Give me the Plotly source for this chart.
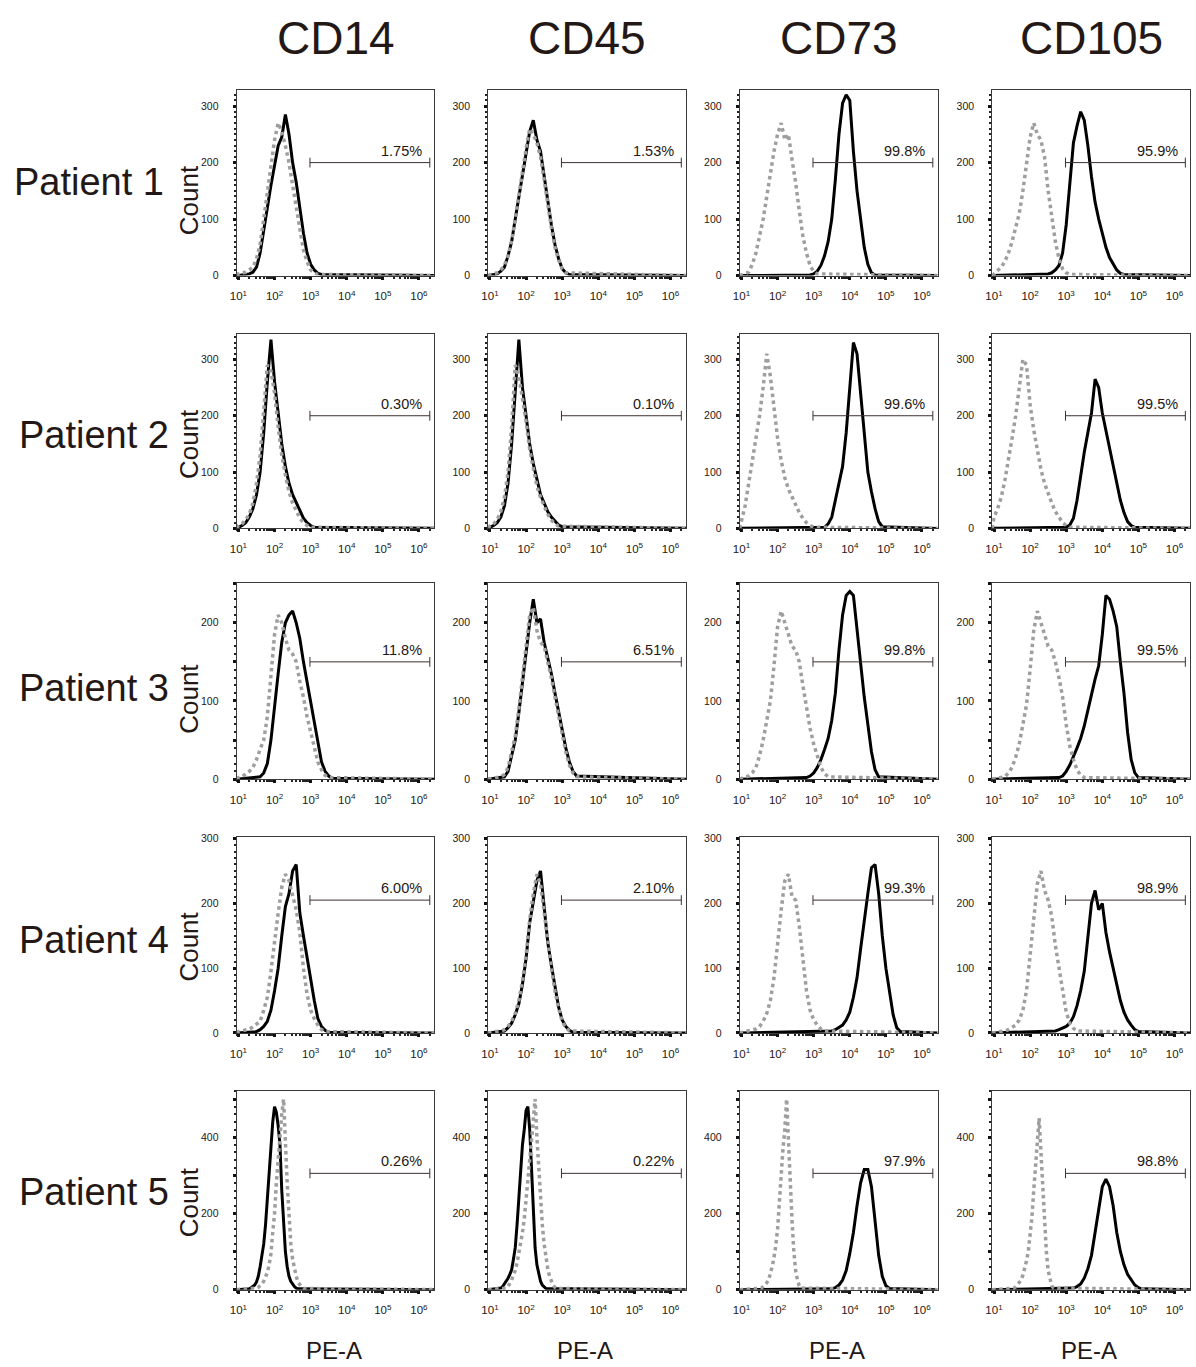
import plotly.graph_objects as go

# ---------------- data ----------------
PATIENTS = ["Patient 1", "Patient 2", "Patient 3", "Patient 4", "Patient 5"]
MARKERS = ["CD14", "CD45", "CD73", "CD105"]
X_TITLE = "PE-A"
Y_TITLE = "Count"

PERCENT_P1 = ["1.75%", "1.53%", "99.8%", "95.9%"]
PERCENT_P2 = ["0.30%", "0.10%", "99.6%", "99.5%"]
PERCENT_P3 = ["11.8%", "6.51%", "99.8%", "99.5%"]
PERCENT_P4 = ["6.00%", "2.10%", "99.3%", "98.9%"]
PERCENT_P5 = ["0.26%", "0.22%", "97.9%", "98.8%"]

GATE_COUNT = [200, 200, 150, 205, 305]      # height of the gate bar per patient row
GATE_LOG = [2.98, 6.30]                     # gate limits, log10 PE-A
Y_MAX = [328, 345, 251, 303, 520]
Y_TICK_STEP = [100, 100, 50, 100, 100]
Y_LABEL_STEP = [100, 100, 100, 100, 200]
Y_MINOR_STEP = [10, 10, 10, 10, 20]
X_LOG_RANGE = [0.95, 6.43]
X_TICK_EXP = [1, 2, 3, 4, 5, 6]

# histograms: (first bin log10 PE-A, bin width in decades, counts)
# black = stained, grey dotted = isotype control
P1_CD14_STAIN = (1.2, 0.1, [2, 3, 6, 15, 40, 80, 125, 160, 195, 230, 245, 285, 250, 200, 165, 120, 75, 40, 20, 10, 4, 2])
P1_CD14_ISO = (1.0, 0.1, [3, 5, 6, 10, 15, 30, 55, 100, 150, 200, 240, 270, 255, 230, 200, 160, 120, 80, 45, 25, 10, 5, 2])
P1_CD45_STAIN = (1.2, 0.1, [3, 8, 15, 35, 60, 100, 140, 180, 220, 255, 275, 240, 220, 175, 130, 90, 55, 30, 12, 5, 2])
P1_CD45_ISO = (1.1, 0.1, [3, 5, 10, 18, 35, 62, 100, 145, 185, 225, 260, 250, 235, 210, 170, 125, 85, 50, 28, 12, 5])
P1_CD73_STAIN = (2.9, 0.1, [1, 3, 8, 18, 35, 60, 100, 170, 250, 305, 320, 310, 220, 150, 95, 50, 20, 5, 1])
P1_CD73_ISO = (1.1, 0.1, [3, 6, 20, 40, 70, 100, 140, 185, 220, 250, 270, 240, 250, 205, 165, 115, 70, 40, 18, 7, 3])
P1_CD105_STAIN = (2.4, 0.1, [2, 3, 5, 10, 18, 40, 90, 165, 235, 265, 290, 275, 230, 175, 130, 100, 75, 50, 32, 20, 10, 4, 2])
P1_CD105_ISO = (1.0, 0.1, [3, 8, 15, 25, 40, 60, 85, 110, 150, 200, 245, 270, 250, 240, 210, 150, 100, 60, 30, 12, 5, 2])

P2_CD14_STAIN = (1.1, 0.1, [5, 10, 20, 35, 60, 100, 170, 260, 335, 260, 200, 150, 110, 80, 60, 45, 30, 18, 10, 5, 2])
P2_CD14_ISO = (1.0, 0.1, [5, 8, 15, 25, 45, 80, 130, 210, 290, 280, 240, 180, 130, 95, 65, 45, 30, 18, 10, 5, 2])
P2_CD45_STAIN = (1.1, 0.1, [5, 10, 20, 40, 80, 150, 250, 335, 250, 200, 150, 115, 85, 60, 45, 30, 20, 12, 6, 3])
P2_CD45_ISO = (1.0, 0.1, [5, 8, 15, 30, 55, 100, 180, 290, 270, 230, 190, 140, 105, 75, 55, 40, 25, 15, 8, 4])
P2_CD73_STAIN = (3.3, 0.1, [2, 8, 20, 50, 80, 110, 170, 250, 330, 310, 240, 170, 100, 65, 35, 12, 3])
P2_CD73_ISO = (1.0, 0.1, [15, 40, 80, 120, 160, 200, 250, 310, 270, 210, 160, 120, 90, 70, 55, 40, 28, 18, 10, 5, 2])
P2_CD105_STAIN = (3.0, 0.1, [2, 6, 18, 50, 95, 135, 170, 205, 265, 250, 205, 175, 140, 110, 80, 50, 28, 12, 5, 2])
P2_CD105_ISO = (1.0, 0.1, [20, 35, 55, 85, 120, 160, 200, 250, 300, 290, 220, 175, 140, 105, 80, 60, 45, 30, 20, 10, 5, 2])

P3_CD14_STAIN = (1.6, 0.1, [3, 8, 20, 50, 95, 135, 175, 200, 210, 215, 200, 180, 150, 125, 100, 75, 45, 22, 10, 4, 1])
P3_CD14_ISO = (1.0, 0.1, [2, 3, 6, 10, 15, 25, 38, 50, 80, 130, 185, 210, 200, 180, 165, 160, 150, 125, 105, 80, 60, 40, 22, 12, 5, 2])
P3_CD45_STAIN = (1.4, 0.1, [3, 10, 30, 50, 85, 125, 165, 200, 230, 200, 205, 175, 155, 135, 110, 85, 60, 40, 22, 10, 4])
P3_CD45_ISO = (1.3, 0.1, [3, 6, 15, 35, 55, 90, 130, 170, 210, 220, 190, 175, 170, 150, 130, 105, 80, 55, 35, 18, 8, 3])
P3_CD73_STAIN = (2.8, 0.1, [2, 4, 8, 15, 25, 38, 52, 75, 110, 165, 210, 235, 240, 235, 190, 145, 105, 70, 35, 12, 3])
P3_CD73_ISO = (1.1, 0.1, [2, 4, 8, 15, 30, 50, 75, 100, 145, 195, 215, 200, 185, 170, 165, 150, 120, 90, 65, 45, 30, 15, 7, 3])
P3_CD105_STAIN = (2.8, 0.1, [2, 4, 10, 18, 28, 40, 52, 68, 88, 110, 128, 145, 185, 235, 230, 215, 195, 150, 110, 60, 25, 8, 2])
P3_CD105_ISO = (1.2, 0.1, [2, 3, 8, 15, 28, 45, 70, 95, 140, 190, 215, 200, 185, 170, 165, 150, 130, 105, 70, 42, 25, 12, 5, 2])

P4_CD14_STAIN = (1.5, 0.1, [2, 5, 10, 18, 35, 65, 100, 150, 195, 215, 250, 260, 185, 150, 115, 78, 50, 22, 10, 4, 1])
P4_CD14_ISO = (1.0, 0.1, [2, 3, 4, 6, 9, 13, 18, 35, 55, 95, 145, 185, 225, 245, 235, 215, 190, 155, 100, 60, 35, 22, 12, 5, 2])
P4_CD45_STAIN = (1.3, 0.1, [2, 3, 8, 15, 28, 45, 75, 115, 170, 205, 235, 250, 190, 140, 105, 70, 40, 20, 10, 4, 1])
P4_CD45_ISO = (1.2, 0.1, [2, 3, 5, 10, 18, 30, 50, 80, 120, 175, 215, 245, 230, 185, 140, 100, 65, 38, 18, 8, 3])
P4_CD73_STAIN = (3.4, 0.1, [2, 3, 5, 8, 12, 20, 32, 55, 85, 130, 175, 215, 255, 260, 215, 150, 100, 60, 28, 8, 2])
P4_CD73_ISO = (1.1, 0.1, [2, 3, 4, 6, 10, 18, 30, 50, 85, 140, 190, 235, 245, 210, 205, 165, 110, 65, 35, 20, 12, 6, 3])
P4_CD105_STAIN = (2.6, 0.1, [2, 3, 5, 8, 10, 15, 25, 42, 65, 95, 145, 200, 220, 190, 200, 155, 125, 100, 75, 50, 32, 20, 12, 5, 2])
P4_CD105_ISO = (1.2, 0.1, [2, 3, 5, 8, 12, 20, 35, 65, 120, 180, 230, 250, 220, 205, 180, 135, 100, 60, 32, 15, 7, 3])

P5_CD14_STAIN = (1.3, 0.05, [2, 5, 8, 12, 20, 35, 60, 85, 120, 170, 240, 290, 360, 440, 480, 465, 430, 380, 260, 170, 100, 60, 35, 22, 14, 8, 4, 2])
P5_CD14_ISO = (1.4, 0.05, [2, 3, 4, 6, 10, 15, 22, 32, 45, 65, 95, 150, 200, 280, 350, 400, 460, 500, 380, 280, 200, 120, 80, 55, 35, 20, 12, 6, 3])
P5_CD45_STAIN = (1.25, 0.05, [2, 4, 8, 15, 22, 30, 40, 52, 80, 110, 170, 250, 330, 380, 420, 470, 480, 420, 320, 210, 110, 65, 40, 22, 12, 6, 3])
P5_CD45_ISO = (1.4, 0.05, [2, 4, 8, 15, 25, 38, 50, 70, 95, 120, 150, 185, 230, 290, 340, 390, 450, 500, 400, 320, 240, 170, 120, 80, 55, 35, 20, 12, 6, 3])
P5_CD73_STAIN = (3.5, 0.1, [2, 5, 12, 25, 50, 95, 150, 220, 280, 315, 315, 270, 180, 90, 35, 10, 3])
P5_CD73_ISO = (1.5, 0.05, [2, 4, 8, 12, 18, 25, 40, 60, 85, 115, 160, 220, 300, 370, 420, 500, 380, 280, 180, 100, 50, 25, 10, 4])
P5_CD105_STAIN = (3.1, 0.1, [2, 4, 8, 15, 30, 55, 90, 150, 205, 270, 290, 270, 220, 150, 100, 65, 40, 25, 12, 5, 2])
P5_CD105_ISO = (1.5, 0.05, [2, 4, 7, 12, 18, 25, 38, 55, 75, 100, 140, 190, 260, 330, 390, 450, 360, 260, 170, 100, 50, 25, 10, 4])

PERCENTS = [PERCENT_P1, PERCENT_P2, PERCENT_P3, PERCENT_P4, PERCENT_P5]
STAINED = [
    [P1_CD14_STAIN, P1_CD45_STAIN, P1_CD73_STAIN, P1_CD105_STAIN],
    [P2_CD14_STAIN, P2_CD45_STAIN, P2_CD73_STAIN, P2_CD105_STAIN],
    [P3_CD14_STAIN, P3_CD45_STAIN, P3_CD73_STAIN, P3_CD105_STAIN],
    [P4_CD14_STAIN, P4_CD45_STAIN, P4_CD73_STAIN, P4_CD105_STAIN],
    [P5_CD14_STAIN, P5_CD45_STAIN, P5_CD73_STAIN, P5_CD105_STAIN],
]
ISOTYPE = [
    [P1_CD14_ISO, P1_CD45_ISO, P1_CD73_ISO, P1_CD105_ISO],
    [P2_CD14_ISO, P2_CD45_ISO, P2_CD73_ISO, P2_CD105_ISO],
    [P3_CD14_ISO, P3_CD45_ISO, P3_CD73_ISO, P3_CD105_ISO],
    [P4_CD14_ISO, P4_CD45_ISO, P4_CD73_ISO, P4_CD105_ISO],
    [P5_CD14_ISO, P5_CD45_ISO, P5_CD73_ISO, P5_CD105_ISO],
]

# ---------------- layout geometry (pixels) ----------------
W, H = 1196, 1367
COL_PX = [(231, 430), (484, 683), (737, 936), (991, 1190)]
ROW_PX = [(85, 272), (331, 527), (582, 780), (838, 1036), (1095, 1295)]
TEXT = "#231815"
FONT = "Liberation Sans, Arial, Helvetica, sans-serif"


def px_x(p):
    return p / W


def px_y(p):
    return 1 - p / H


def hist_xy(h):
    start, step, counts = h
    xs = [10 ** X_LOG_RANGE[0]]
    ys = [0]
    for i, c in enumerate(counts):
        xs.append(10 ** (start + i * step))
        ys.append(c)
    xs.append(10 ** X_LOG_RANGE[1])
    ys.append(0)
    return xs, ys


fig = go.Figure()
layout = dict(
    width=W, height=H, margin=dict(l=0, r=0, t=0, b=0), autosize=False,
    paper_bgcolor="white", plot_bgcolor="white", showlegend=False,
    font=dict(family=FONT, color=TEXT),
)
annotations = []

x_minor_vals = [m * 10 ** d for d in range(0, 7) for m in range(2, 10)]

for r in range(5):
    for c in range(4):
        k = r * 4 + c + 1
        sx = "" if k == 1 else str(k)
        xa, ya = "x" + sx, "y" + sx
        L, R = COL_PX[c]
        T, B = ROW_PX[r]
        ymax = Y_MAX[r]
        yt = list(range(0, ymax + 1, Y_TICK_STEP[r]))
        ytxt = [str(v) if v % Y_LABEL_STEP[r] == 0 else " " for v in yt]
        layout["xaxis" + sx] = dict(
            domain=[px_x(L), px_x(R)], anchor=ya, type="log", range=X_LOG_RANGE,
            tickmode="array", tickvals=[10 ** e for e in X_TICK_EXP],
            ticktext=["10<sup>%d</sup>" % e for e in X_TICK_EXP],
            ticks="outside", ticklen=3, tickwidth=3, tickcolor="#111",
            minor=dict(tickmode="array", tickvals=x_minor_vals, ticks="outside",
                       ticklen=2, tickwidth=1.5, tickcolor="#222"),
            showline=True, mirror=True, linecolor="#3a3a3a", linewidth=1,
            showgrid=False, zeroline=False, tickfont=dict(size=11.5, color=TEXT),
            ticklabelstandoff=7, fixedrange=True,
        )
        layout["yaxis" + sx] = dict(
            domain=[px_y(B), px_y(T)], anchor=xa, range=[0, ymax],
            tickmode="array", tickvals=yt, ticktext=ytxt,
            ticks="outside", ticklen=3, tickwidth=3, tickcolor="#111",
            minor=dict(dtick=Y_MINOR_STEP[r], ticks="outside", ticklen=2,
                       tickwidth=1.5, tickcolor="#222"),
            showline=True, mirror=True, linecolor="#3a3a3a", linewidth=1,
            showgrid=False, zeroline=False, tickfont=dict(size=10.5, color=TEXT),
            ticklabelstandoff=12, fixedrange=True,
        )
        bx, by = hist_xy(STAINED[r][c])
        fig.add_trace(go.Scatter(x=bx, y=by, xaxis=xa, yaxis=ya, mode="lines",
                                 line=dict(color="#000000", width=3),
                                 hoverinfo="skip"))
        gx, gy = hist_xy(ISOTYPE[r][c])
        fig.add_trace(go.Scatter(x=gx, y=gy, xaxis=xa, yaxis=ya, mode="lines",
                                 line=dict(color="#9e9e9e", width=3.5, dash="dot"),
                                 hoverinfo="skip"))
        g = GATE_COUNT[r]
        fig.add_trace(go.Scatter(x=[10 ** GATE_LOG[0], 10 ** GATE_LOG[1]], y=[g, g],
                                 xaxis=xa, yaxis=ya, mode="lines+markers",
                                 line=dict(color="#3d3030", width=1),
                                 marker=dict(symbol="line-ns-open", size=7,
                                             line=dict(color="#3d3030", width=1)),
                                 hoverinfo="skip"))
        annotations.append(dict(
            x=GATE_LOG[1] - 0.15, y=g, xref=xa, yref=ya, xanchor="right",
            yanchor="bottom", yshift=2, text=PERCENTS[r][c], showarrow=False,
            font=dict(size=14.5, color=TEXT)))

# column headers and x titles
for c, m in enumerate(MARKERS):
    L, R = COL_PX[c]
    annotations.append(dict(x=px_x((L + R) / 2), y=px_y(32), xref="paper", yref="paper",
                            text=m, showarrow=False, xanchor="center", yanchor="middle",
                            font=dict(size=46, color=TEXT)))
    annotations.append(dict(x=px_x((L + R) / 2 - 2), y=px_y(1356), xref="paper", yref="paper",
                            text=X_TITLE, showarrow=False, xanchor="center", yanchor="middle",
                            font=dict(size=24, color=TEXT)))

PATIENT_X = [82, 88, 88, 88, 88]
PATIENT_Y = [178, 433, 688, 942, 1196]
COUNT_Y = [196, 442, 699, 949, 1207]
for r, p in enumerate(PATIENTS):
    annotations.append(dict(x=px_x(PATIENT_X[r]), y=px_y(PATIENT_Y[r]), xref="paper",
                            yref="paper", text=p, showarrow=False, xanchor="center",
                            yanchor="middle", font=dict(size=38, color=TEXT)))
    annotations.append(dict(x=px_x(183), y=px_y(COUNT_Y[r]), xref="paper", yref="paper",
                            text=Y_TITLE, showarrow=False, textangle=-90,
                            xanchor="center", yanchor="middle",
                            font=dict(size=26, color=TEXT)))

layout["annotations"] = annotations
fig.update_layout(**layout)
fig.write_html("out.html", config={"displayModeBar": False},
               post_script="document.body.style.margin='0';document.body.style.overflow='hidden';")
